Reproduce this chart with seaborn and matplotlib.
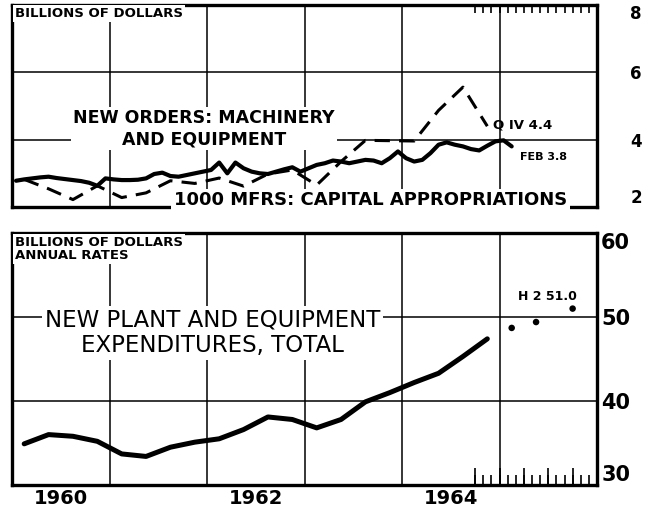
import numpy as np
import pandas as pd
import matplotlib
matplotlib.use("Agg")
import matplotlib.pyplot as plt
import seaborn as sns

# ---- data (billions of dollars) ----
# new orders, machinery and equipment: monthly, Jan 1960 - Feb 1965
orders_values = [
    2.78, 2.82, 2.85, 2.88, 2.90, 2.86, 2.83, 2.80, 2.77, 2.72, 2.63, 2.85,   # 1960
    2.82, 2.80, 2.80, 2.81, 2.85, 2.98, 3.02, 2.92, 2.90, 2.95, 3.00, 3.05,   # 1961
    3.10, 3.32, 3.00, 3.32, 3.15, 3.05, 3.00, 2.98, 3.05, 3.12, 3.18, 3.05,   # 1962
    3.15, 3.25, 3.30, 3.38, 3.35, 3.30, 3.35, 3.40, 3.38, 3.30, 3.45, 3.65,   # 1963
    3.45, 3.35, 3.40, 3.60, 3.85, 3.92, 3.85, 3.80, 3.72, 3.68, 3.82, 3.95,   # 1964
    3.98, 3.80,                                                               # 1965
]
orders_start = 1960

# 1000 manufacturers, capital appropriations: quarterly, 1960 Q1 - 1964 Q4
approp_values = [2.82, 2.54, 2.22, 2.63,
                 2.28, 2.42, 2.78, 2.70,
                 2.86, 2.62, 2.98, 3.10,
                 2.65, 3.35, 3.98, 3.97,
                 3.96, 4.87, 5.56, 4.40]
approp_start = 1960

# new plant and equipment expenditures, annual rates: quarterly 1960 Q1 - 1964 Q4
capex_values = [34.9, 36.0, 35.8, 35.2,
                33.7, 33.4, 34.5, 35.1,
                35.5, 36.6, 38.1, 37.8,
                36.8, 37.8, 39.9, 41.0,
                42.2, 43.3, 45.3, 47.4]
capex_start = 1960

# anticipated 1965: Q1, Q2, second half
plan_labels = ["Q1", "Q2", "H2"]
plan_x = [1965.125, 1965.375, 1965.75]
plan_values = [48.7, 49.4, 51.0]

year_labels = ["1960", "1962", "1964"]
top_yticks = [2, 4, 6, 8]
bottom_yticks = [30, 40, 50, 60]

# ---- tables for seaborn ----
orders = pd.DataFrame({
    "t": orders_start + (np.arange(len(orders_values)) + 0.5) / 12,
    "v": orders_values})
approp = pd.DataFrame({
    "t": approp_start + (np.arange(len(approp_values)) + 0.5) / 4,
    "v": approp_values})
capex = pd.DataFrame({
    "t": capex_start + (np.arange(len(capex_values)) + 0.5) / 4,
    "v": capex_values})
plans = pd.DataFrame({"t": plan_x, "v": plan_values, "p": plan_labels})

sns.set_style("white")
plt.rcParams["font.family"] = ["DejaVu Sans"]
for key in ("text.color", "xtick.color", "ytick.color", "axes.labelcolor"):
    plt.rcParams[key] = "black"

W, H = 648, 515
fig = plt.figure(figsize=(W / 100, H / 100), dpi=100)
ax1 = fig.add_axes([12 / W, 1 - 207 / H, 585 / W, 202 / H])
ax2 = fig.add_axes([12 / W, 1 - 485 / H, 585 / W, 252 / H])

month_ticks = [1964.75 + k / 12 for k in range(16)]
quarter_ticks = [1964.75, 1965.0, 1965.25, 1965.5, 1965.75, 1966.0]

for ax in (ax1, ax2):
    ax.set_xlim(1960, 1966)
    ax.set_axisbelow(True)
    for s in ax.spines.values():
        s.set_linewidth(2.4)
        s.set_color("black")
        s.set_visible(True)
    for x in range(1961, 1966):
        ax.axvline(x, color="black", lw=1.1, zorder=1)

# ---- top panel ----
ax1.set_ylim(2, 8)
for y in (4, 6):
    ax1.axhline(y, color="black", lw=1.1, zorder=1)
sns.lineplot(data=orders, x="t", y="v", ax=ax1, color="black", lw=3.0,
             zorder=5)
sns.lineplot(data=approp, x="t", y="v", ax=ax1, color="black", lw=2.2,
             dashes=False, zorder=4)
ax1.lines[-1].set_dashes((5, 3))
ax1.set_xlabel("")
ax1.set_ylabel("")
ax1.set_xticks([])
ax1.set_xticks(month_ticks, minor=True)
ax1.tick_params(axis="x", which="minor", top=True, bottom=False,
                direction="in", length=6, width=1.2, color="black")
ax1.yaxis.tick_right()
ax1.set_yticks(top_yticks)
ax1.set_yticklabels([str(v) for v in top_yticks], fontsize=12,
                    fontweight="bold")
ax1.tick_params(axis="y", length=0, pad=24)
for lab in ax1.get_yticklabels():
    if lab.get_text() == "8":
        lab.set_va("top")
    elif lab.get_text() == "2":
        lab.set_va("bottom")

box = dict(facecolor="white", edgecolor="none", pad=1.5)
ax1.text(1960.03, 7.95, "BILLIONS OF DOLLARS", fontsize=9.5,
         fontweight="bold", va="top", ha="left", bbox=box, zorder=3)
ax1.text(1961.97, 4.33, "NEW ORDERS: MACHINERY\nAND EQUIPMENT",
         fontsize=12.5, fontweight="bold", ha="center", va="center",
         linespacing=1.25, bbox=box, zorder=3)
ax1.text(1963.68, 2.2, "1000 MFRS: CAPITAL APPROPRIATIONS", fontsize=13,
         fontweight="bold", ha="center", va="center",
         bbox=dict(facecolor="white", edgecolor="none", pad=2), zorder=3)
ax1.text(1964.93, 4.45, "Q IV 4.4", fontsize=9.5, fontweight="bold",
         ha="left", va="center", zorder=3)
ax1.text(1965.21, 3.5, "FEB 3.8", fontsize=8, fontweight="bold",
         ha="left", va="center", zorder=3)

# ---- bottom panel ----
ax2.set_ylim(30, 60)
for y in (40, 50):
    ax2.axhline(y, color="black", lw=1.1, zorder=1)
sns.lineplot(data=capex, x="t", y="v", ax=ax2, color="black", lw=3.6,
             zorder=5)
sns.scatterplot(data=plans, x="t", y="v", ax=ax2, color="black", s=22,
                edgecolor="none", zorder=5)
ax2.set_xlabel("")
ax2.set_ylabel("")
ax2.set_xticks([1960.5, 1962.5, 1964.5])
ax2.set_xticklabels(year_labels, fontsize=14, fontweight="bold")
ax2.tick_params(axis="x", which="major", length=0, pad=3)
ax2.set_xticks(quarter_ticks, minor=True)
ax2.tick_params(axis="x", which="minor", bottom=True, direction="in",
                length=12, width=1.2, color="black")
sec = ax2.secondary_xaxis("bottom")
sec.set_xticks(month_ticks)
sec.set_xticklabels([])
sec.tick_params(axis="x", direction="in", length=7, width=1.2,
                color="black")
sec.spines["bottom"].set_visible(False)

ax2.yaxis.tick_right()
ax2.set_yticks(bottom_yticks)
ax2.set_yticklabels([str(v) for v in bottom_yticks], fontsize=15,
                    fontweight="bold")
ax2.tick_params(axis="y", length=0, pad=3)
for lab in ax2.get_yticklabels():
    if lab.get_text() == "60":
        lab.set_va("top")
    elif lab.get_text() == "30":
        lab.set_va("bottom")

ax2.text(1960.03, 59.6, "BILLIONS OF DOLLARS\nANNUAL RATES", fontsize=9.5,
         fontweight="bold", va="top", ha="left", linespacing=1.0,
         bbox=box, zorder=3)
ax2.text(1962.06, 48.1, "NEW PLANT AND EQUIPMENT\nEXPENDITURES, TOTAL",
         fontsize=16.5, ha="center", va="center", linespacing=1.15,
         bbox=dict(facecolor="white", edgecolor="none", pad=2), zorder=3)
ax2.text(1965.19, 52.5, "H 2 51.0", fontsize=9, fontweight="bold",
         ha="left", va="center", zorder=3)

fig.savefig("out.png", dpi=100)
